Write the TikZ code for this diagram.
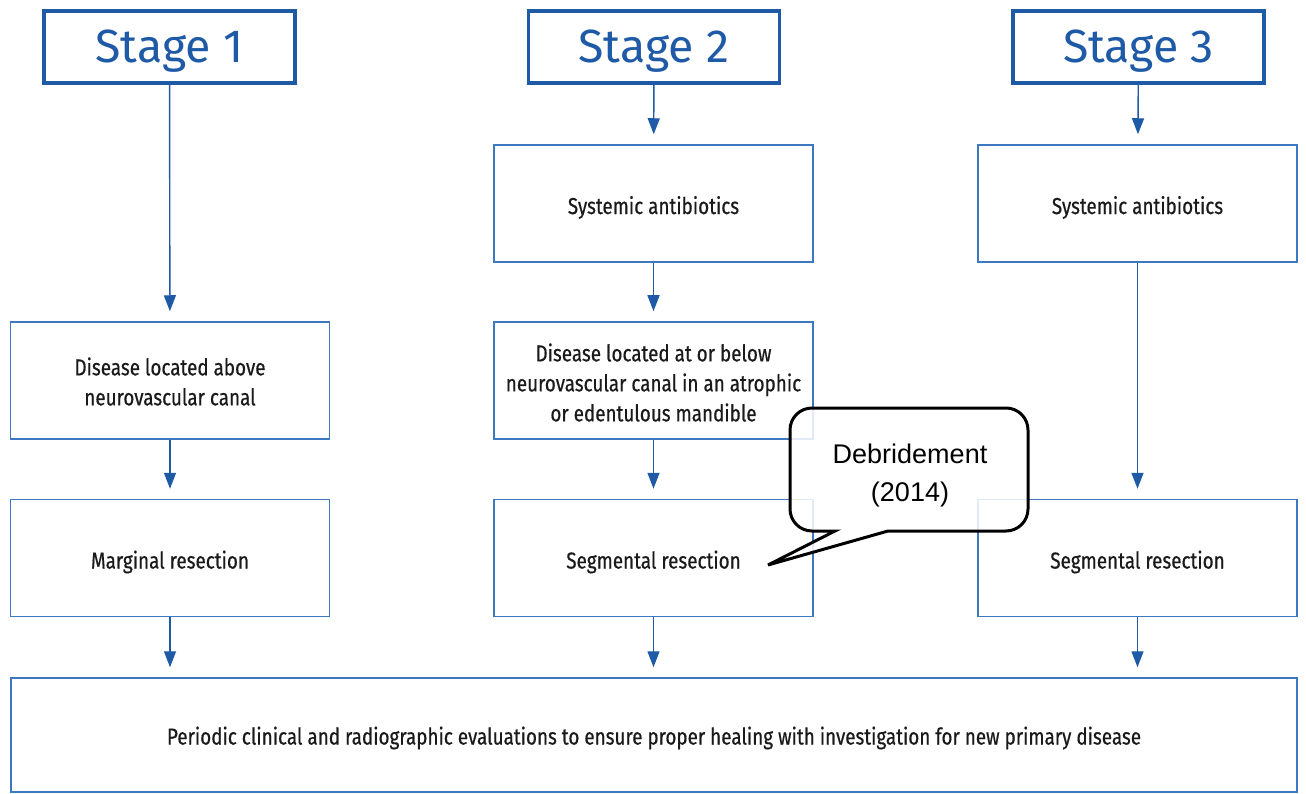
\documentclass[tikz,border=0pt]{standalone}
\usepackage{fontspec}
\setmainfont[FakeStretch=0.82,FakeBold=0.5]{Fira Sans}
\newfontfamily\stagefont{Fira Sans}
\newfontfamily\callfont{Liberation Sans}
\usetikzlibrary{arrows.meta,positioning}
\definecolor{dblue}{HTML}{1F5AA6}
\definecolor{lblue}{HTML}{3D78C2}
\definecolor{txt}{HTML}{1A1A1A}
\tikzset{
  stagebox/.style={draw=dblue,line width=3.2pt,minimum width=251pt,minimum height=72pt,inner sep=0pt,text=dblue,text height=32pt,text depth=0pt,font=\stagefont\fontsize{46.5}{46}\selectfont},
  stepbox/.style={draw=lblue,line width=1.5pt,minimum width=319pt,minimum height=117pt,inner sep=0pt},
  steptext/.style={inner sep=0pt,align=center,text=txt,font=\fontsize{23}{30}\selectfont},
  arr/.style={draw=dblue,line width=1.4pt,-{Triangle[width=12pt,length=16pt]},shorten >=10pt},
}
\begin{document}
\begin{tikzpicture}[x=1pt,y=-1pt]
\useasboundingbox (0,0) rectangle (1306,794);
\fill[white] (0,0) rectangle (1306,794);
% stages
\node[stagebox] (s1) at (169.5,47) {Stage 1};
\node[stagebox] (s2) at (654,47) {Stage 2};
\node[stagebox] (s3) at (1138.5,47) {Stage 3};
% column 1
\node[stepbox] (d1) at (170,380.5) {};
\node[stepbox] (m1) at (170,558) {};
% column 2
\node[stepbox] (a2) at (653.5,203.5) {};
\node[stepbox] (d2) at (653.5,380.5) {};
\node[stepbox] (g2) at (653.5,558) {};
% column 3
\node[stepbox] (a3) at (1137.5,203.5) {};
\node[stepbox] (g3) at (1137.5,558) {};
% bottom
\node[stepbox,minimum width=1286pt,minimum height=114pt] (p) at (654,735) {};
% texts
\node[steptext] (d1t) at ([yshift=-1pt]d1.center) {Disease located above\\neurovascular canal};
\node[steptext] (m1t) at ([yshift=-4pt]m1.center) {Marginal resection};
\node[steptext] (a2t) at ([yshift=-4pt]a2.center) {Systemic antibiotics};
\node[steptext] (d2t) at ([yshift=-2pt]d2.center) {Disease located at or below\\neurovascular canal in an atrophic\\or edentulous mandible};
\node[steptext] (g2t) at ([yshift=-4pt]g2.center) {Segmental resection};
\node[steptext] (a3t) at ([yshift=-4pt]a3.center) {Systemic antibiotics};
\node[steptext] (g3t) at ([yshift=-4pt]g3.center) {Segmental resection};
\node[steptext] (pt) at ([yshift=-3pt]p.center) {Periodic clinical and radiographic evaluations to ensure proper healing with investigation for new primary disease};
% arrows
\draw[arr] (s1) -- (d1);
\draw[arr] (d1) -- (m1);
\draw[arr] (m1) -- (m1 |- p.north);
\draw[arr] (s2) -- (a2);
\draw[arr] (a2) -- (d2);
\draw[arr] (d2) -- (g2);
\draw[arr] (g2) -- (g2 |- p.north);
\draw[arr] (s3) -- (a3);
\draw[arr] (a3) -- (g3);
\draw[arr] (g3) -- (g3 |- p.north);
% callout
\coordinate (tip) at (768,565);
\draw[line width=3pt,fill=white,fill opacity=0.85,line join=miter] (tip) -- (835,531) [rounded corners=22pt] -- (790,531) -- (790,408) -- (1028,408) -- (1028,531) [sharp corners] -- (888,531) -- cycle;
\node[align=center,font=\callfont\fontsize{27}{38}\selectfont,text=black] (cb) at (910,476) {Debridement\\(2014)};
\end{tikzpicture}
\end{document}
